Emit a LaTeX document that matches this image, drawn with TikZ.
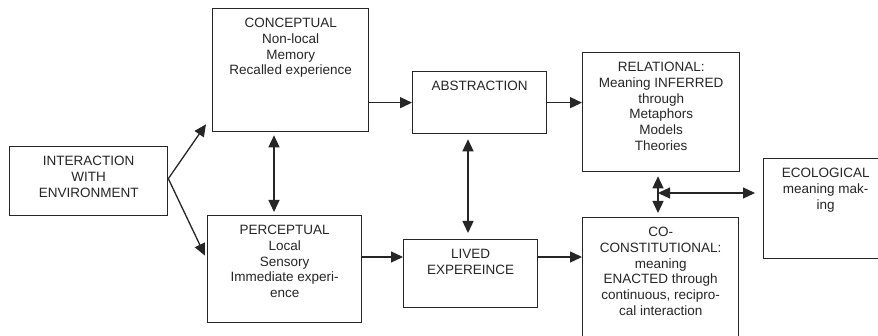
\documentclass[tikz,border=0pt]{standalone}
\usepackage{fontspec}
\setmainfont{Liberation Sans}
\usetikzlibrary{arrows.meta,calc}
\colorlet{ink}{black!85}
\begin{document}
\begin{tikzpicture}[x=1pt,y=-1pt,
  box/.style={draw=ink, line width=1.3pt, inner sep=0pt, anchor=north west},
  lbl/.style={anchor=north, inner sep=0pt, align=center, text=ink,
              font=\fontsize{13.5}{15.7}\selectfont},
  link/.style={draw=ink, line width=1.3pt, -{Triangle[length=12pt,width=11pt]}},
  both/.style={draw=ink, line width=1.3pt,
               {Triangle[length=12pt,width=11pt]}-{Triangle[length=12pt,width=11pt]}},
]
% canvas
\fill[white] (0,0) rectangle (878,336);
\useasboundingbox (0,0) rectangle (878,336);

% boxes
\node[box, minimum width=158pt, minimum height=69pt]  (ie)    at (9,146)  {};
\node[box, minimum width=156pt, minimum height=123pt] (con)   at (212,8)  {};
\node[box, minimum width=154pt, minimum height=107pt] (per)   at (207,215) {};
\node[box, minimum width=134pt, minimum height=62pt]  (abs)   at (412,71) {};
\node[box, minimum width=134pt, minimum height=68pt]  (lived) at (403,239) {};
\node[box, minimum width=157pt, minimum height=119pt] (rel)   at (582,52) {};
\node[box, minimum width=156pt, minimum height=128pt] (co)    at (582,217) {};
\node[box, minimum width=124pt, minimum height=100pt] (eco)   at (763,158) {};

% box texts, set from the top edge
\node[lbl] (ieT)    at ($(ie.north)+(0,10.2)$)    {INTERACTION\\WITH\\ENVIRONMENT};
\node[lbl] (conT)   at ($(con.north)+(0,10.2)$)   {CONCEPTUAL\\Non-local\\Memory\\Recalled experience};
\node[lbl] (perT)   at ($(per.north)+(0,10.2)$)   {PERCEPTUAL\\Local\\Sensory\\Immediate experi-\\ence};
\node[lbl] (absT)   at ($(abs.north)+(0,10.2)$)   {ABSTRACTION};
\node[lbl] (livedT) at ($(lived.north)+(0,10.2)$) {LIVED\\EXPEREINCE};
\node[lbl] (relT)   at ($(rel.north)+(0,10.2)$)   {RELATIONAL:\\Meaning INFERRED\\through\\Metaphors\\Models\\Theories};
\node[lbl] (coT)    at ($(co.north)+(0,10.2)$)    {CO-\\CONSTITUTIONAL:\\meaning\\ENACTED through\\continuous, recipro-\\cal interaction};
\node[lbl] (ecoT)   at ($(eco.north)+(0,10.2)$)   {ECOLOGICAL\\meaning mak-\\ing};

% helper coordinates
\coordinate (fork)   at ($(ie.east)+(0,-2.5)$);
\coordinate (upTip)  at ($(con.south west)+(-6,-8)$);
\coordinate (dnTip)  at ($(per.west)+(-2,-13.5)$);
\coordinate (cpx)    at (274,0);
\coordinate (alx)    at (468,0);
\coordinate (lowrow) at (0,257);
\coordinate (hub)    at (658,193);

% connectors
\draw[link] (fork) -- (upTip);
\draw[link] (fork) -- (dnTip);
\draw[both] ($(con.south -| cpx)+(0,3)$) -- ($(per.north -| cpx)+(0,-3)$);
\draw[link] (abs.west -| con.east) -- (abs.west);
\draw[link] (abs.east) -- (abs.east -| rel.west);
\draw[link] (per.east |- lowrow) -- (lived.west |- lowrow);
\draw[link] (lived.east |- lowrow) -- (co.west |- lowrow);
\draw[both] ($(abs.south -| alx)+(0,5)$) -- ($(lived.north -| alx)+(0,-6)$);
\draw[both] ($(rel.south -| hub)+(0,4)$) -- ($(co.north -| hub)+(0,-4)$);
\draw[both] (hub) -- ($(eco.west |- hub)+(-8,0)$);
\end{tikzpicture}
\end{document}
